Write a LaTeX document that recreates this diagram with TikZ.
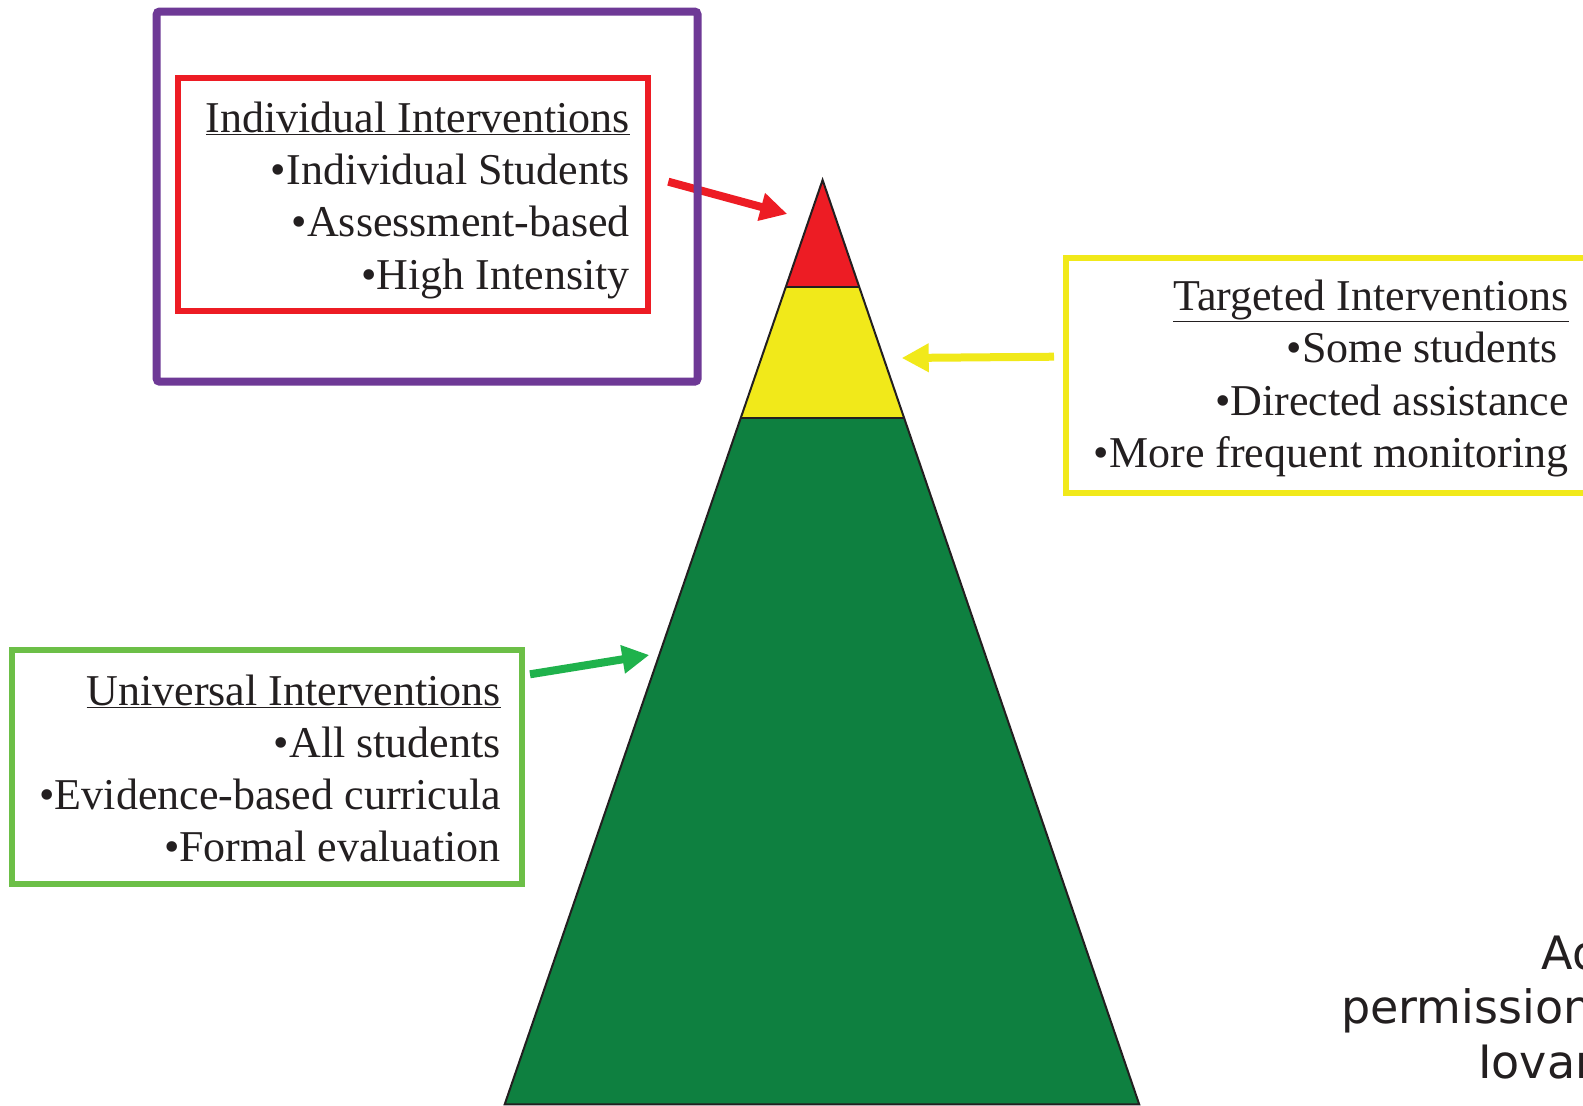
\documentclass[tikz,border=0pt]{standalone}
\usepackage{fontspec}
\setmainfont{Liberation Serif}
\newfontfamily\creditfont{DejaVu Sans}
\usetikzlibrary{arrows.meta,calc}

\definecolor{tierred}{HTML}{ED1C24}
\definecolor{tieryellow}{HTML}{F1E91A}
\definecolor{tiergreen}{HTML}{0E8040}
\definecolor{arrowgreen}{HTML}{1FB24C}
\definecolor{boxgreen}{HTML}{6CBF47}
\definecolor{boxpurple}{HTML}{6E3996}
\definecolor{ink}{HTML}{231F20}

\tikzset{
  frame/.style={draw, rectangle, inner sep=0pt, line width=6pt},
  blocktext/.style={anchor=base east, inner sep=0pt, text=ink,
    font=\fontsize{44}{52.3}\selectfont},
  credit/.style={anchor=base west, inner sep=0pt, text=ink,
    font=\creditfont\fontsize{46}{55}\selectfont},
  pointer/.style={line width=8pt, -{Triangle[length=27pt,width=27pt]}},
  edge/.style={draw=ink, line width=2pt, line join=miter},
}

\newcommand{\blocklines}[1]{\begin{tabular}[t]{@{}r@{}}#1\end{tabular}}

\begin{document}
\begin{tikzpicture}[x=1pt, y=-1pt]
  \clip (0,0) rectangle (1583,1106);
  \fill[white] (0,0) rectangle (1583,1106);

  % pyramid corners and tier boundaries
  \coordinate (apex) at (822.6,180);
  \coordinate (bl) at (504.7,1104.3);
  \coordinate (br) at (1139.2,1104.3);
  \coordinate (rl) at ($(apex)!0.1154!(bl)$);
  \coordinate (rr) at ($(apex)!0.1154!(br)$);
  \coordinate (yl) at ($(apex)!0.2578!(bl)$);
  \coordinate (yr) at ($(apex)!0.2578!(br)$);

  \fill[tiergreen] (yl) -- (yr) -- (br) -- (bl) -- cycle;
  \fill[tieryellow] (rl) -- (rr) -- (yr) -- (yl) -- cycle;
  \fill[tierred] (apex) -- (rr) -- (rl) -- cycle;
  \draw[edge] (apex) -- (br) -- (bl) -- cycle;
  \draw[edge] (rl) -- (rr);
  \draw[edge] (yl) -- (yr);

  % pointers from the boxes to the tiers
  \coordinate (redtail) at (668.3,181.7);
  \coordinate (redtip) at (787.3,214);
  \coordinate (yellowtail) at (1054,356.7);
  \coordinate (yellowtip) at (901.7,358);
  \coordinate (greentail) at (530,674.3);
  \coordinate (greentip) at (649.3,655);
  \draw[pointer, tierred] (redtail) -- (redtip);
  \draw[pointer, tieryellow] (yellowtail) -- (yellowtip);
  \draw[pointer, arrowgreen] (greentail) -- (greentip);

  % frames
  \node[frame, draw=boxpurple, line width=8pt, rounded corners=3pt,
        minimum width=540.8pt, minimum height=370.2pt] (outer) at (427.1,196.6) {};
  \node[frame, draw=tierred, minimum width=470pt, minimum height=232.7pt]
        (indbox) at (413,194.65) {};
  \node[frame, draw=tieryellow, minimum width=534.5pt, minimum height=234.7pt]
        (tarbox) at (1332.75,375.35) {};
  \node[frame, draw=boxgreen, minimum width=509.9pt, minimum height=234.2pt]
        (unibox) at (267.05,767.3) {};

  % box texts
  \node[blocktext] (indtext) at (630,132.3) {\blocklines{%
    \underline{Individual Interventions}\\
    •Individual Students\\
    •Assessment-based\\
    •High Intensity}};
  \node[blocktext] (tartext) at (1569,310.5) {\blocklines{%
    \underline{Targeted Interventions}\\
    •Some students\kern11pt\\
    •Directed assistance\\
    •More frequent monitoring}};
  \node[blocktext] (unitext) at (501,705) {\blocklines{%
    \underline{Universal Interventions}\\
    •All students\\
    •Evidence-based curricula\\
    •Formal evaluation}};

  % credit line at the lower right
  \node[credit] (credit1) at (1541.3,969) {Ad};
  \node[credit] (credit2) at (1341,1023) {permission};
  \node[credit] (credit3) at (1478,1078) {Iovan};
\end{tikzpicture}
\end{document}
